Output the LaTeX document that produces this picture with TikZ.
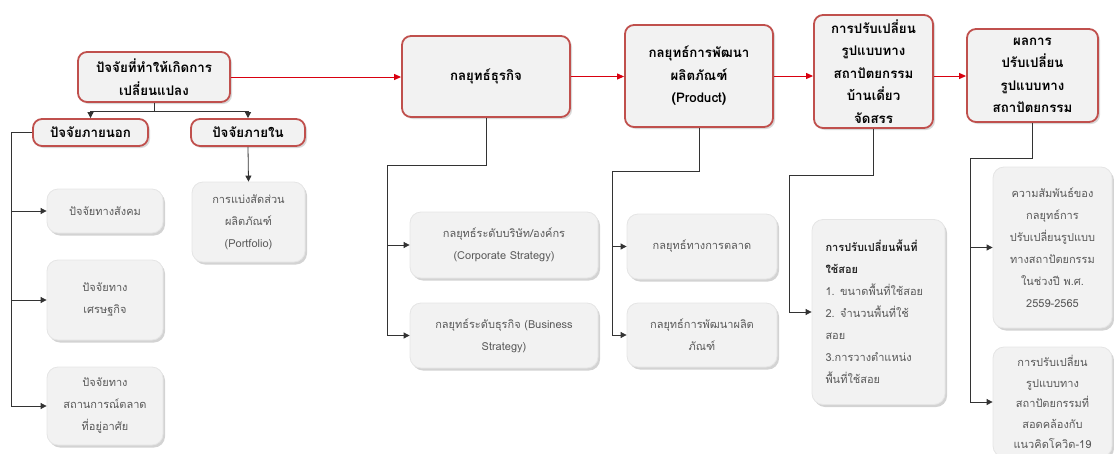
\documentclass[tikz,border=0pt]{standalone}
\usepackage{fontspec}
\setmainfont[Script=Thai]{Loma}
\usetikzlibrary{arrows.meta,shadows}
\definecolor{boxred}{HTML}{C0504D}
\definecolor{boxfill}{HTML}{F2F2F2}
\definecolor{linered}{HTML}{D9000F}
\definecolor{textgray}{HTML}{595959}
\definecolor{linegray}{HTML}{333333}
\tikzset{
  redbox/.style={draw=boxred, line width=1.8pt, fill=boxfill, rounded corners=9pt,
    align=center, inner sep=2pt, font=\fontsize{13.3}{22.5}\selectfont\bfseries,
    drop shadow={shadow xshift=2pt, shadow yshift=-2pt, opacity=0.3}},
  graybox/.style={draw=black!10, line width=0.8pt, fill=boxfill, rounded corners=11pt,
    align=center, inner sep=2pt, text=textgray, font=\fontsize{11}{22}\selectfont,
    drop shadow={shadow xshift=2pt, shadow yshift=-2.5pt, opacity=0.35}},
  redarrow/.style={draw=linered, line width=1pt, -{Triangle[length=7pt,width=6pt]}},
  blackarrow/.style={draw=linegray, line width=0.8pt, -{Triangle[length=6pt,width=6pt]}}
}
\begin{document}
\begin{tikzpicture}[x=1pt, y=-1pt]
\useasboundingbox (0,0) rectangle (1114,453);
\node[redbox, minimum width=152pt, minimum height=50pt] (cause) at (154,77) {ปัจจัยที่ทำให้เกิดการ\\เปลี่ยนแปลง};
\node[redbox, minimum width=115pt, minimum height=27pt] (ext) at (90.5,132.5) {ปัจจัยภายนอก};
\node[redbox, minimum width=114pt, minimum height=27pt] (int) at (248,132.5) {ปัจจัยภายใน};
\node[graybox, minimum width=116pt, minimum height=44pt] (social) at (105,211) {ปัจจัยทางสังคม};
\node[graybox, minimum width=116pt, minimum height=80pt] (econ) at (105,300) {ปัจจัยทาง\\เศรษฐกิจ};
\node[graybox, minimum width=116pt, minimum height=78pt] (market) at (105,406) {ปัจจัยทาง\\สถานการณ์ตลาด\\ที่อยู่อาศัย};
\node[graybox, minimum width=113pt, minimum height=80pt] (portfolio) at (248.5,222) {การแบ่งสัดส่วน\\ผลิตภัณฑ์\\(Portfolio)};
\node[redbox, minimum width=168pt, minimum height=81pt] (business) at (486,76.5) {กลยุทธ์ธุรกิจ};
\node[redbox, minimum width=148pt, minimum height=102pt] (product) at (699,76) {กลยุทธ์การพัฒนา\\ผลิตภัณฑ์\\(Product)};
\node[graybox, minimum width=188pt, minimum height=66pt] (corporate) at (504,245) {กลยุทธ์ระดับบริษัท/องค์กร\\(Corporate Strategy)};
\node[graybox, minimum width=188pt, minimum height=65pt] (level) at (504,335.5) {กลยุทธ์ระดับธุรกิจ (Business\\Strategy)};
\node[graybox, minimum width=150pt, minimum height=65pt] (marketing) at (702,246.5) {กลยุทธ์ทางการตลาด};
\node[graybox, minimum width=150pt, minimum height=64pt] (develop) at (702,335) {กลยุทธ์การพัฒนาผลิต\\ภัณฑ์};
\node[redbox, minimum width=119pt, minimum height=113pt] (house) at (873.5,71.5) {การปรับเปลี่ยน\\รูปแบบทาง\\สถาปัตยกรรม\\บ้านเดี่ยว\\จัดสรร};
\node[redbox, minimum width=131pt, minimum height=93pt] (result) at (1032.5,75.5) {ผลการ\\ปรับเปลี่ยน\\รูปแบบทาง\\สถาปัตยกรรม};
\node[graybox, align=left, text width=106pt, inner xsep=13.5pt, minimum height=185pt] (space) at (878.5,312) {{\bfseries\color{black!85}การปรับเปลี่ยนพื้นที่}\\{\bfseries\color{black!85}ใช้สอย}\\1. ขนาดพื้นที่ใช้สอย\\2. จำนวนพื้นที่ใช้\\สอย\\3.การวางตำแหน่ง\\พื้นที่ใช้สอย};
\node[graybox, minimum width=119pt, minimum height=161pt] (relation) at (1052.5,247.5) {ความสัมพันธ์ของ\\กลยุทธ์การ\\ปรับเปลี่ยนรูปแบบ\\ทางสถาปัตยกรรม\\ในช่วงปี พ.ศ.\\2559-2565};
\node[graybox, minimum width=119pt, minimum height=110pt, font=\fontsize{11}{20.5}\selectfont] (covid) at (1052.5,402) {การปรับเปลี่ยน\\รูปแบบทาง\\สถาปัตยกรรมที่\\สอดคล้องกับ\\แนวคิดโควิด-19};
\coordinate (bizturn) at (387,165);
\coordinate (prodturn) at (612,171);
\coordinate (houseturn) at (789,175);
\coordinate (resultturn) at (970,158);
\draw[redarrow] (cause.east) -- (cause.east -| business.west);
\draw[redarrow] (business.east) -- (business.east -| product.west);
\draw[redarrow] (product.east) -- (product.east -| house.west);
\draw[redarrow] (product.east -| house.east) -- (product.east -| result.west);
\draw[blackarrow] (cause.south) -- ++(0,8) -| (ext.north);
\draw[blackarrow] (cause.south) -- ++(0,8) -| (int.north);
\draw[blackarrow] (ext.west) -- ++(-21,0) |- (social.west);
\draw[blackarrow] (ext.west) -- ++(-21,0) |- (econ.west);
\draw[blackarrow] (ext.west) -- ++(-21,0) |- (market.west);
\draw[blackarrow] (int.south) -- (portfolio.north);
\draw[blackarrow] (business.south) |- (bizturn) |- (corporate.west);
\draw[blackarrow] (bizturn) |- (level.west);
\draw[blackarrow] (product.south) |- (prodturn) |- (marketing.west);
\draw[blackarrow] (prodturn) |- (develop.west);
\draw[blackarrow] (house.south) |- (houseturn) |- (space.west);
\draw[blackarrow] (result.south) |- (resultturn) |- (relation.west);
\draw[blackarrow] (resultturn) |- (covid.west);
\end{tikzpicture}
\end{document}
